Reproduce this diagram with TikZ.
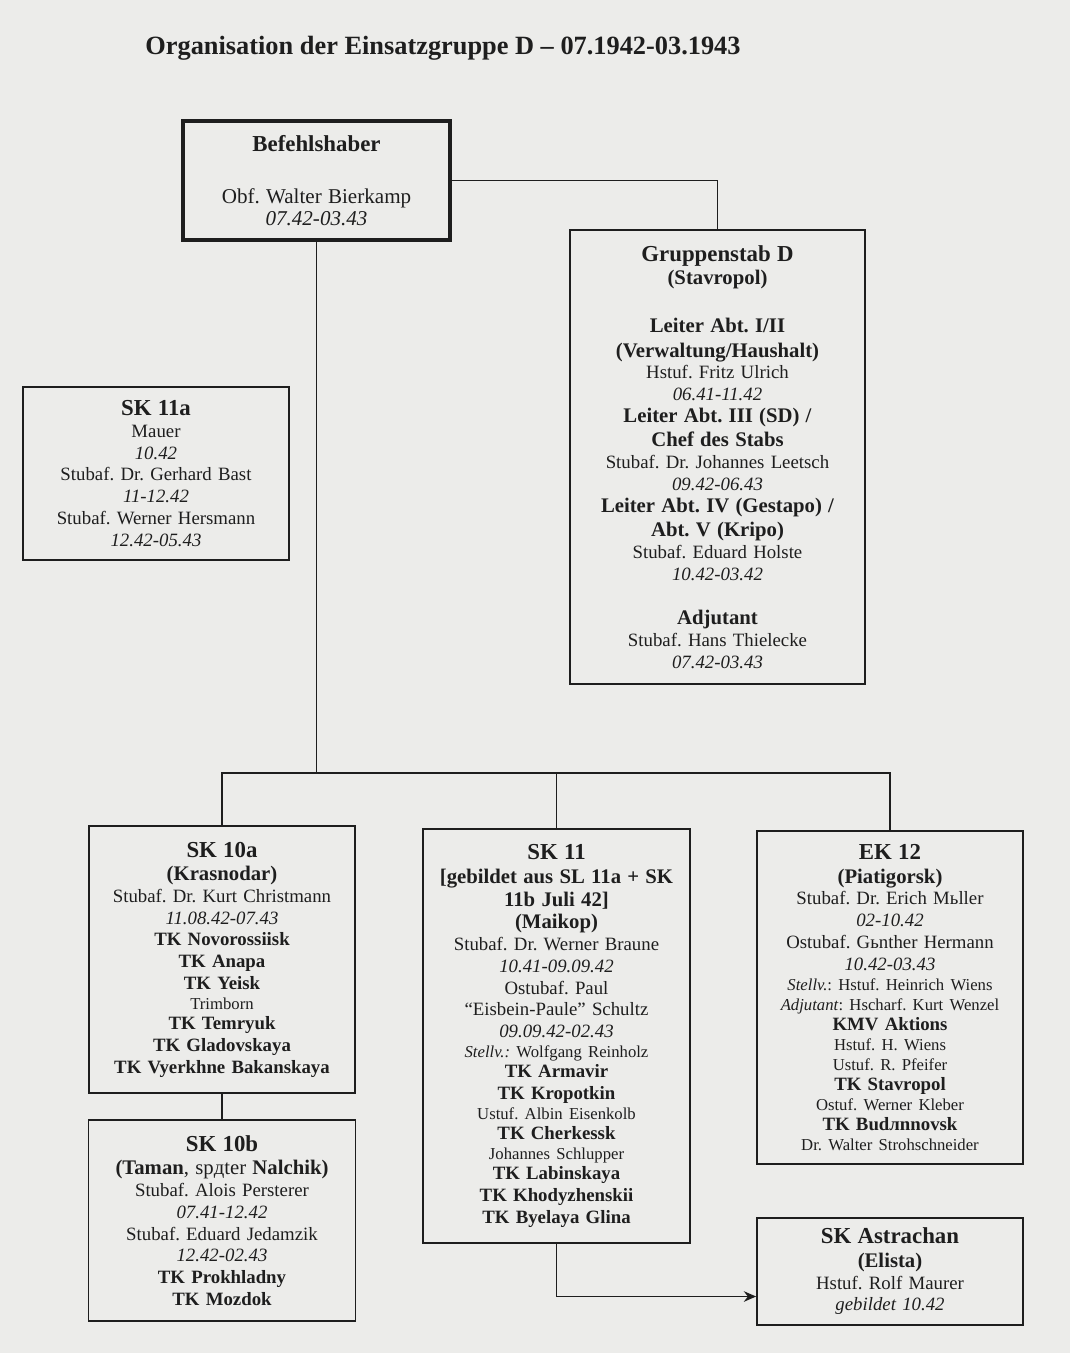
\documentclass[tikz,border=0pt]{standalone}
\usepackage{fontspec}
\setmainfont{Liberation Serif}
\frenchspacing
\usetikzlibrary{arrows,arrows.meta,calc}
\definecolor{paper}{RGB}{236,236,234}
\definecolor{ink}{RGB}{30,30,30}
\newcommand{\unitname}[1]{{\fontsize{13}{15}\selectfont\bfseries #1}}
\newcommand{\subhead}[1]{{\fontsize{11.8}{13.5}\selectfont\bfseries #1}}
\newcommand{\minor}[1]{{\fontsize{9.5}{11}\selectfont #1}}
\begin{document}
\begin{tikzpicture}[x=0.02cm,y=-0.02cm,>={Stealth[length=7pt,width=6pt]},
  box/.style={rectangle, draw=ink, line width=1pt, inner sep=0pt, align=center, text=ink, font=\fontsize{10.7}{12.4}\selectfont},
  chief/.style={box, line width=2pt}]
\fill[paper] (0,0) rectangle (1070,1353);
\draw (443,48) node[text=ink, font=\fontsize{15}{18}\selectfont\bfseries] (title) {Organisation der Einsatzgruppe D – 07.1942-03.1943};

\draw (316.5,180.5) node[chief, text width=5.34cm, minimum height=2.38cm] (Bef) {\unitname{Befehlshaber}\\[16pt]
  {\fontsize{12}{14}\selectfont Obf. Walter Bierkamp\\ \textit{07.42-03.43}}};
\draw (717.5,457) node[box, text width=5.9cm, minimum height=9.08cm] (Gstab) {\unitname{Gruppenstab D}\\[1pt]
  \subhead{(Stavropol)}\\[15pt]
  \subhead{Leiter Abt. I/II}\\[1.5pt]
  \subhead{(Verwaltung/Haushalt)}\\
  Hstuf. Fritz Ulrich\\ \textit{06.41-11.42}\\
  \subhead{Leiter Abt. III (SD) /}\\[1.5pt]
  \subhead{Chef des Stabs}\\
  Stubaf. Dr. Johannes Leetsch\\ \textit{09.42-06.43}\\
  \subhead{Leiter Abt. IV (Gestapo) /}\\[1.5pt]
  \subhead{Abt. V (Kripo)}\\
  Stubaf. Eduard Holste\\ \textit{10.42-03.42}\\[13pt]
  \subhead{Adjutant}\\
  Stubaf. Hans Thielecke\\ \textit{07.42-03.43}};
\draw (156,473.5) node[box, text width=5.32cm, minimum height=3.46cm] (SKa) {\unitname{SK 11a}\\
  Mauer\\ \textit{10.42}\\
  Stubaf. Dr. Gerhard Bast\\ \textit{11-12.42}\\
  Stubaf. Werner Hersmann\\ \textit{12.42-05.43}};

\draw (222,959.5) node[box, text width=5.32cm, minimum height=5.34cm] (SKza) {\unitname{SK 10a}\\[1pt]
  \subhead{(Krasnodar)}\\
  Stubaf. Dr. Kurt Christmann\\ \textit{11.08.42-07.43}\\
  \textbf{TK Novorossiisk}\\ \textbf{TK Anapa}\\ \textbf{TK Yeisk}\\[-1pt]
  \minor{Trimborn}\\[-1pt]
  \textbf{TK Temryuk}\\ \textbf{TK Gladovskaya}\\ \textbf{TK Vyerkhne Bakanskaya}};
\draw (222,1220.5) node[box, text width=5.34cm, minimum height=4.02cm] (SKzb) {\unitname{SK 10b}\\[1pt]
  {\fontsize{11.8}{13.5}\selectfont\textbf{(Taman}, spдter \textbf{Nalchik)}}\\
  Stubaf. Alois Persterer\\ \textit{07.41-12.42}\\
  Stubaf. Eduard Jedamzik\\ \textit{12.42-02.43}\\
  \textbf{TK Prokhladny}\\ \textbf{TK Mozdok}};
\draw (556.5,1036) node[box, text width=5.34cm, minimum height=8.28cm] (SKe) {\unitname{SK 11}\\[1pt]
  \subhead{[gebildet aus SL 11a + SK}\\[0.5pt]
  \subhead{11b Juli 42]}\\[0.5pt]
  \subhead{(Maikop)}\\
  Stubaf. Dr. Werner Braune\\ \textit{10.41-09.09.42}\\
  Ostubaf. Paul\\ “Eisbein-Paule” Schultz\\ \textit{09.09.42-02.43}\\[-1pt]
  \minor{\textit{Stellv.:} Wolfgang Reinholz}\\[-1pt]
  \textbf{TK Armavir}\\ \textbf{TK Kropotkin}\\[-1pt]
  \minor{Ustuf. Albin Eisenkolb}\\[-1pt]
  \textbf{TK Cherkessk}\\[-1pt]
  \minor{Johannes Schlupper}\\[-1pt]
  \textbf{TK Labinskaya}\\ \textbf{TK Khodyzhenskii}\\ \textbf{TK Byelaya Glina}};
\draw (890,997.5) node[box, text width=5.32cm, minimum height=6.66cm] (EKz) {\unitname{EK 12}\\[1pt]
  \subhead{(Piatigorsk)}\\
  Stubaf. Dr. Erich Mьller\\ \textit{02-10.42}\\
  Ostubaf. Gьnther Hermann\\ \textit{10.42-03.43}\\[-1pt]
  \minor{\textit{Stellv.}: Hstuf. Heinrich Wiens}\\[-1pt]
  \minor{\textit{Adjutant}: Hscharf. Kurt Wenzel}\\[-1pt]
  \textbf{KMV Aktions}\\[-1pt]
  \minor{Hstuf. H. Wiens}\\[-1pt]
  \minor{Ustuf. R. Pfeifer}\\[-1pt]
  \textbf{TK Stavropol}\\[-1pt]
  \minor{Ostuf. Werner Kleber}\\[-1pt]
  \textbf{TK Budлnnovsk}\\[-1pt]
  \minor{Dr. Walter Strohschneider}};
\draw (890,1271.5) node[box, text width=5.32cm, minimum height=2.14cm] (SKastr) {\unitname{SK Astrachan}\\[1pt]
  \subhead{(Elista)}\\
  Hstuf. Rolf Maurer\\ \textit{gebildet 10.42}};

\coordinate (bus) at (316.5,773);
\draw [ink, line width=1pt] (Bef.east) -| (Gstab.north);
\draw [ink, line width=1pt] (Bef.south) -- (bus);
\draw [ink, line width=1pt] (SKza.north) |- (bus) -| (EKz.north);
\draw [ink, line width=1pt] (SKe.north) -- (SKe.north |- bus);
\draw [ink, line width=1pt] (SKza.south) -- (SKzb.north);
\draw [ink, line width=1pt, ->] (SKe.south) |- ($(SKastr.west)+(0,25)$);
\end{tikzpicture}
\end{document}
